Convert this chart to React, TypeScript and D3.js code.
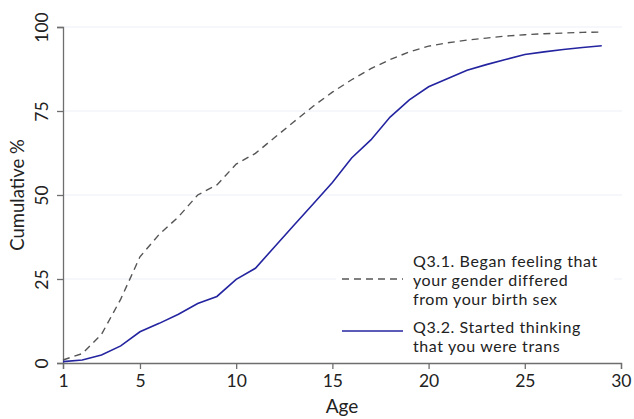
import { useEffect, useRef } from "react";
import * as d3 from "d3";

const ages = [1, 2, 3, 4, 5, 6, 7, 8, 9, 10, 11, 12, 13, 14, 15, 16, 17, 18, 19, 20, 21, 22, 23, 24, 25, 26, 27, 28, 29];
const feltDifferent = [0.9, 2.8, 8.5, 19, 31.6, 38.3, 43.5, 50, 53, 59.2, 62.4, 67.1, 71.8, 76.4, 80.6, 84.3, 87.6, 90.3, 92.6, 94.3, 95.3, 96.1, 96.7, 97.3, 97.7, 98, 98.2, 98.4, 98.5];
const thoughtTrans = [0.4, 0.9, 2.4, 5.1, 9.3, 11.8, 14.5, 17.7, 19.8, 24.9, 28.2, 34.6, 41, 47.3, 53.7, 61, 66.4, 73.2, 78.3, 82.2, 84.7, 87.1, 88.8, 90.3, 91.8, 92.6, 93.3, 93.9, 94.4];
const xTicks = [1, 5, 10, 15, 20, 25, 30];
const yTicks = [0, 25, 50, 75, 100];
const legendLabels = [
  ["Q3.1. Began feeling that", "your gender differed", "from your birth sex"],
  ["Q3.2. Started thinking", "that you were trans"],
];

export default function App() {
  const ref = useRef<SVGSVGElement>(null);

  useEffect(() => {
    document.body.style.margin = "0";
    const width = 634;
    const height = 419;
    const margin = { top: 27, right: 13, bottom: 56, left: 63 };
    const font = "Lato, 'DejaVu Sans', sans-serif";

    const svg = d3.select(ref.current);
    svg.selectAll("*").remove();
    svg.attr("width", width).attr("height", height).style("display", "block");

    const x = d3.scaleLinear().domain([1, 30]).range([margin.left, width - margin.right]);
    const y = d3.scaleLinear().domain([0, 100]).range([height - margin.bottom, margin.top]);

    // gridlines
    svg.append("g")
      .selectAll("line")
      .data(yTicks.filter(d => d > 0))
      .join("line")
      .attr("x1", x(1))
      .attr("x2", x(30) + 1)
      .attr("y1", d => y(d))
      .attr("y2", d => y(d))
      .attr("stroke", "#eceff5")
      .attr("stroke-width", 1.2);

    // Y axis
    const yAxis = svg.append("g")
      .attr("transform", `translate(${margin.left},0)`)
      .call(d3.axisLeft(y).tickValues(yTicks).tickSize(6).tickPadding(10));
    yAxis.select(".domain").attr("stroke", "#6e6e6e").attr("stroke-width", 1.3);
    yAxis.selectAll(".tick line").attr("stroke", "#6e6e6e").attr("stroke-width", 1.3);
    yAxis.selectAll(".tick text")
      .attr("font-family", font)
      .attr("font-size", 17.5)
      .attr("fill", "#222")
      .attr("text-anchor", "middle")
      .attr("dy", 0)
      .attr("transform", "rotate(-90)")
      .attr("x", 0)
      .attr("y", -15);

    // X axis
    const xAxis = svg.append("g")
      .attr("transform", `translate(0,${height - margin.bottom})`)
      .call(d3.axisBottom(x).tickValues(xTicks).tickSize(6).tickPadding(6));
    xAxis.select(".domain").attr("stroke", "#6e6e6e").attr("stroke-width", 1.3);
    xAxis.selectAll(".tick line").attr("stroke", "#6e6e6e").attr("stroke-width", 1.3);
    xAxis.selectAll(".tick text")
      .attr("font-family", font)
      .attr("font-size", 17.5)
      .attr("fill", "#222");
    // keep the last label inside the picture
    xAxis.selectAll<SVGTextElement, number>(".tick text")
      .filter(d => d === 30)
      .attr("text-anchor", "end")
      .attr("dx", 10);

    // axis titles
    svg.append("text")
      .attr("x", (x(1) + x(30)) / 2)
      .attr("y", 413)
      .attr("text-anchor", "middle")
      .attr("font-family", font)
      .attr("font-size", 19)
      .attr("fill", "#222")
      .text("Age");

    svg.append("text")
      .attr("transform", `translate(24,${(y(0) + y(100)) / 2}) rotate(-90)`)
      .attr("text-anchor", "middle")
      .attr("font-family", font)
      .attr("font-size", 18.5)
      .attr("fill", "#222")
      .text("Cumulative %");

    // lines
    const line = (vals: number[]) =>
      d3.line<number>().x((_, i) => x(ages[i])).y(d => y(d))(vals);

    svg.append("path")
      .attr("d", line(feltDifferent))
      .attr("fill", "none")
      .attr("stroke", "#555")
      .attr("stroke-width", 1.4)
      .attr("stroke-dasharray", "7,5");

    svg.append("path")
      .attr("d", line(thoughtTrans))
      .attr("fill", "none")
      .attr("stroke", "#2424a0")
      .attr("stroke-width", 1.6);

    // legend
    const lg = svg.append("g");
    lg.append("rect")
      .attr("x", 336)
      .attr("y", 246)
      .attr("width", 278)
      .attr("height", 112)
      .attr("fill", "#fff");

    const lineX1 = 342;
    const lineX2 = 403;
    const textX = 413;
    lg.append("line")
      .attr("x1", lineX1).attr("x2", lineX2)
      .attr("y1", 279).attr("y2", 279)
      .attr("stroke", "#555")
      .attr("stroke-width", 1.4)
      .attr("stroke-dasharray", "7,5");
    lg.append("line")
      .attr("x1", lineX1).attr("x2", lineX2)
      .attr("y1", 331).attr("y2", 331)
      .attr("stroke", "#2424a0")
      .attr("stroke-width", 1.6);

    const starts = [267, 333];
    legendLabels.forEach((rows, gi) => {
      rows.forEach((row, ri) => {
        lg.append("text")
          .attr("x", textX)
          .attr("y", starts[gi] + ri * 19)
          .attr("font-family", font)
          .attr("font-size", 16)
          .attr("letter-spacing", 0.6)
          .attr("fill", "#222")
          .text(row);
      });
    });
  }, []);

  return <svg ref={ref}></svg>;
}
